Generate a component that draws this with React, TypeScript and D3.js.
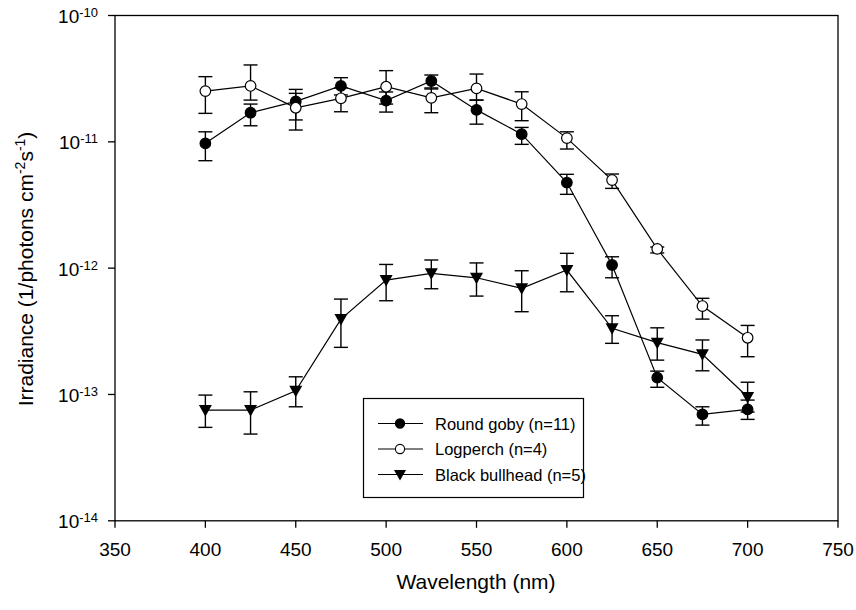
import * as React from "react";
import * as d3 from "d3";

// wavelengths (nm)
const wavelengths = [400, 425, 450, 475, 500, 525, 550, 575, 600, 625, 650, 675, 700];

// Round goby (n=11)
const gobyMean = [9.73e-12, 1.7e-11, 2.09e-11, 2.77e-11, 2.12e-11, 3.03e-11, 1.79e-11, 1.15e-11, 4.76e-12, 1.06e-12, 1.36e-13, 6.96e-14, 7.62e-14];
const gobyHigh = [1.2e-11, 1.99e-11, 2.42e-11, 3.22e-11, 2.48e-11, 3.38e-11, 2.14e-11, 1.3e-11, 5.53e-12, 1.23e-12, 1.53e-13, 7.99e-14, 9.03e-14];
const gobyLow = [7.09e-12, 1.34e-11, 1.49e-11, 2.35e-11, 1.72e-11, 2.62e-11, 1.38e-11, 9.55e-12, 3.84e-12, 8.39e-13, 1.14e-13, 5.72e-14, 6.35e-14];

// Logperch (n=4)
const perchMean = [2.52e-11, 2.77e-11, 1.86e-11, 2.21e-11, 2.73e-11, 2.23e-11, 2.65e-11, 1.99e-11, 1.07e-11, 4.98e-12, 1.42e-12, 5.01e-13, 2.81e-13];
const perchHigh = [3.28e-11, 4.06e-11, 2.6e-11, 2.67e-11, 3.66e-11, 2.67e-11, 3.44e-11, 2.49e-11, 1.2e-11, 5.56e-12, 1.47e-12, 5.77e-13, 3.52e-13];
const perchLow = [1.68e-11, 2.14e-11, 1.24e-11, 1.73e-11, 1.99e-11, 1.7e-11, 2.14e-11, 1.47e-11, 8.77e-12, 4.28e-12, 1.32e-12, 3.95e-13, 1.99e-13];

// Black bullhead (n=5)
const bullMean = [7.52e-14, 7.52e-14, 1.07e-13, 3.95e-13, 8.05e-13, 9.1e-13, 8.39e-13, 6.92e-13, 9.66e-13, 3.34e-13, 2.57e-13, 2.08e-13, 9.54e-14];
const bullHigh = [9.89e-14, 1.05e-13, 1.38e-13, 5.69e-13, 1.07e-12, 1.16e-12, 1.1e-12, 9.54e-13, 1.31e-12, 4.2e-13, 3.37e-13, 2.7e-13, 1.25e-13];
const bullLow = [5.49e-14, 4.86e-14, 7.99e-14, 2.36e-13, 5.52e-13, 6.87e-13, 6.01e-13, 4.52e-13, 6.5e-13, 2.54e-13, 1.87e-13, 1.54e-13, 7.26e-14];

const xTicks = [350, 400, 450, 500, 550, 600, 650, 700, 750];
const yExponents = [-10, -11, -12, -13, -14];
const legendLabels = ["Round goby (n=11)", "Logperch (n=4)", "Black bullhead (n=5)"];

const font = "Liberation Sans, Arial, sans-serif";

const Marker = (props: { kind: string; x: number; y: number }) => {
  const { kind, x, y } = props;
  if (kind === "tri") {
    return (
      <path
        d={`M${x - 6.5},${y - 5} L${x + 6.5},${y - 5} L${x},${y + 6.5} Z`}
        fill="black"
      />
    );
  }
  return (
    <circle
      cx={x}
      cy={y}
      r={5.3}
      fill={kind === "open" ? "white" : "black"}
      stroke="black"
      strokeWidth={1.2}
    />
  );
};

export default function App() {
  const width = 856;
  const height = 610;

  const x = d3.scaleLinear().domain([350, 750]).range([115, 838]);
  const y = d3.scaleLog().domain([1e-14, 1e-10]).range([520.8, 15.5]);

  const line = d3
    .line<number>()
    .x((d, i) => x(wavelengths[i]))
    .y((d) => y(d));

  const series = [
    { mean: gobyMean, high: gobyHigh, low: gobyLow, kind: "filled" },
    { mean: perchMean, high: perchHigh, low: perchLow, kind: "open" },
    { mean: bullMean, high: bullHigh, low: bullLow, kind: "tri" },
  ];

  const [x0, x1] = x.range();
  const [yb, yt] = y.range();

  return (
    <svg
      width={width}
      height={height}
      style={{ position: "absolute", left: 0, top: 0, background: "white" }}
      fontFamily={font}
    >
      {/* frame */}
      <rect x={x0} y={yt} width={x1 - x0} height={yb - yt} fill="none" stroke="black" strokeWidth={1.3} />

      {/* x ticks */}
      {xTicks.map((t) => (
        <g key={t}>
          <line x1={x(t)} x2={x(t)} y1={yb} y2={yb + 7} stroke="black" strokeWidth={1.3} />
          <text x={x(t)} y={556} textAnchor="middle" fontSize={19}>
            {t}
          </text>
        </g>
      ))}

      {/* y ticks */}
      {yExponents.map((e) => {
        const yy = y(Math.pow(10, e));
        return (
          <g key={e}>
            <line x1={x0 - 7} x2={x0} y1={yy} y2={yy} stroke="black" strokeWidth={1.3} />
            <text x={98} y={yy + 7.5} textAnchor="end" fontSize={19}>
              10
              <tspan fontSize={13} dy={-6}>
                {e}
              </tspan>
            </text>
          </g>
        );
      })}

      {/* titles */}
      <text x={476} y={589} textAnchor="middle" fontSize={21}>
        Wavelength (nm)
      </text>
      <text transform="translate(33,269) rotate(-90)" textAnchor="middle" fontSize={21}>
        Irradiance (1/photons cm
        <tspan fontSize={14} dy={-8}>-2</tspan>
        <tspan dy={8}>s</tspan>
        <tspan fontSize={14} dy={-8}>-1</tspan>
        <tspan dy={8}>)</tspan>
      </text>

      {/* series */}
      {series.map((s, si) => (
        <g key={si}>
          <path d={line(s.mean) || ""} fill="none" stroke="black" strokeWidth={1.2} />
          {s.mean.map((m, i) => {
            const cx = x(wavelengths[i]);
            const hi = y(s.high[i]);
            const lo = y(s.low[i]);
            return (
              <g key={i} stroke="black" strokeWidth={1.4}>
                <line x1={cx} x2={cx} y1={hi} y2={lo} />
                <line x1={cx - 7} x2={cx + 7} y1={hi} y2={hi} />
                <line x1={cx - 7} x2={cx + 7} y1={lo} y2={lo} />
              </g>
            );
          })}
          {s.mean.map((m, i) => (
            <Marker key={i} kind={s.kind} x={x(wavelengths[i])} y={y(m)} />
          ))}
        </g>
      ))}

      {/* legend */}
      <rect x={363.5} y={398.5} width={220} height={99} fill="white" stroke="black" strokeWidth={1.2} />
      {legendLabels.map((label, i) => {
        const ly = 423.5 + i * 25.5;
        return (
          <g key={label}>
            <line x1={378} x2={423} y1={ly} y2={ly} stroke="black" strokeWidth={1.2} />
            {series[i].kind === "tri" ? (
              <path d={`M${394},${ly - 4.5} L${406},${ly - 4.5} L${400},${ly + 6} Z`} fill="black" />
            ) : (
              <circle
                cx={400}
                cy={ly}
                r={4.6}
                fill={series[i].kind === "open" ? "white" : "black"}
                stroke="black"
                strokeWidth={1.1}
              />
            )}
            <text x={435} y={ly + 6} fontSize={16.5}>
              {label}
            </text>
          </g>
        );
      })}
    </svg>
  );
}
